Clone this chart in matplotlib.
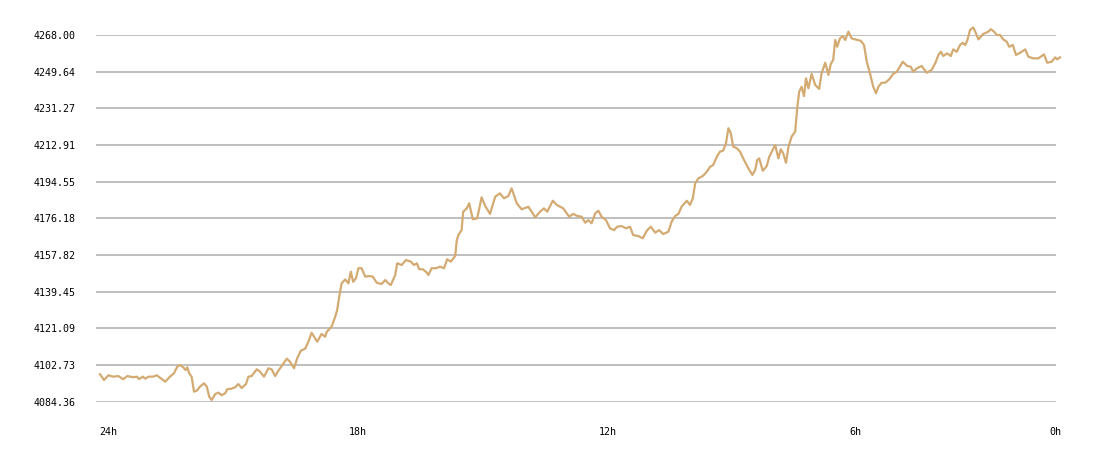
import matplotlib
matplotlib.use("Agg")
import matplotlib.pyplot as plt

# hours since start of the 24h window
hours = [
    0.0, 0.1, 0.21, 0.33, 0.46, 0.58, 0.68, 0.83, 0.92, 0.98, 1.07, 1.13, 1.21, 1.33, 1.42,
    1.52, 1.63, 1.75, 1.85, 1.93, 2.0, 2.08, 2.14, 2.18, 2.23, 2.29, 2.35, 2.42, 2.5, 2.6,
    2.67, 2.73, 2.79, 2.88, 2.96, 3.04, 3.13, 3.18, 3.29, 3.38, 3.46, 3.54, 3.65, 3.71, 3.79,
    3.92, 4.0, 4.1, 4.21, 4.29, 4.38, 4.46, 4.54, 4.67, 4.75, 4.85, 4.93, 5.02, 5.13, 5.21,
    5.29, 5.43, 5.54, 5.63, 5.67, 5.79, 5.88, 5.93, 5.98, 6.04, 6.13, 6.21, 6.27, 6.33, 6.4,
    6.46, 6.54, 6.63, 6.71, 6.82, 6.92, 7.04, 7.13, 7.21, 7.27, 7.38, 7.43, 7.54, 7.65, 7.77,
    7.85, 7.92, 7.98, 8.07, 8.17, 8.21, 8.29, 8.4, 8.5, 8.6, 8.68, 8.77, 8.88, 8.92, 8.96,
    9.04, 9.08, 9.17, 9.23, 9.32, 9.43, 9.54, 9.63, 9.75, 9.88, 10.0, 10.1, 10.21, 10.29, 10.42,
    10.54, 10.71, 10.88, 11.0, 11.1, 11.18, 11.32, 11.42, 11.58, 11.73, 11.83, 11.93, 12.04, 12.13, 12.21,
    12.29, 12.38, 12.46, 12.54, 12.65, 12.75, 12.85, 12.93, 13.04, 13.15, 13.25, 13.33, 13.46, 13.57, 13.67,
    13.77, 13.88, 13.98, 14.08, 14.21, 14.29, 14.38, 14.46, 14.54, 14.67, 14.75, 14.82, 14.88, 14.96, 15.07,
    15.17, 15.25, 15.33, 15.42, 15.5, 15.58, 15.65, 15.71, 15.77, 15.83, 15.92, 16.0, 16.1, 16.21, 16.31,
    16.38, 16.43, 16.48, 16.57, 16.67, 16.73, 16.88, 16.96, 17.02, 17.08, 17.15, 17.21, 17.29, 17.38, 17.43,
    17.48, 17.54, 17.6, 17.65, 17.71, 17.79, 17.88, 17.98, 18.04, 18.13, 18.17, 18.21, 18.27, 18.33, 18.38,
    18.43, 18.5, 18.57, 18.63, 18.71, 18.79, 18.88, 19.02, 19.1, 19.17, 19.25, 19.33, 19.4, 19.46, 19.54,
    19.63, 19.73, 19.83, 19.92, 20.07, 20.18, 20.27, 20.33, 20.42, 20.54, 20.67, 20.79, 20.88, 20.96, 21.02,
    21.08, 21.18, 21.27, 21.33, 21.42, 21.5, 21.57, 21.63, 21.68, 21.75, 21.83, 21.88, 21.96, 22.08, 22.21,
    22.27, 22.35, 22.42, 22.5, 22.58, 22.67, 22.73, 22.82, 22.9, 23.0, 23.13, 23.21, 23.33, 23.46, 23.6,
    23.68, 23.79, 23.88, 23.93, 24.0,
]

prices = [
    4098.1, 4095.2, 4097.6, 4096.9, 4097.2, 4095.6, 4097.2, 4096.6, 4096.9, 4095.7, 4096.9, 4095.9, 4096.9, 4096.9, 4097.6,
    4096.1, 4094.4, 4096.9, 4098.6, 4101.9, 4102.7, 4101.6, 4100.2, 4101.6, 4098.6, 4096.9, 4089.4, 4089.9, 4091.9, 4093.6,
    4091.9, 4086.9, 4085.2, 4088.2, 4088.9, 4087.6, 4088.6, 4090.6, 4090.9, 4091.6, 4093.2, 4091.2, 4093.2, 4096.9, 4097.2,
    4100.6, 4099.4, 4096.9, 4101.1, 4100.6, 4097.2, 4099.9, 4102.2, 4105.9, 4104.4, 4101.1, 4106.1, 4109.9, 4110.9, 4114.4,
    4118.9, 4114.4, 4118.3, 4116.9, 4119.4, 4121.9, 4126.9, 4130.3, 4136.9, 4143.6, 4145.6, 4143.6, 4149.5, 4144.4, 4146.2,
    4151.2, 4151.2, 4147.0, 4147.3, 4147.0, 4143.9, 4143.3, 4145.3, 4143.6, 4142.8, 4147.8, 4153.7, 4152.8, 4155.3, 4154.5,
    4152.8, 4153.7, 4150.7, 4150.7, 4149.0, 4147.8, 4151.2, 4151.2, 4152.0, 4151.2, 4155.7, 4154.5, 4157.3, 4165.3, 4167.8,
    4170.3, 4179.5, 4181.2, 4183.7, 4175.7, 4176.2, 4186.7, 4182.4, 4178.4, 4187.0, 4188.7, 4186.2, 4187.4, 4191.2, 4183.7,
    4180.7, 4182.0, 4176.7, 4179.5, 4181.2, 4179.5, 4185.0, 4182.9, 4181.2, 4177.0, 4178.4, 4177.4, 4177.0, 4174.0, 4175.3,
    4173.7, 4178.7, 4180.0, 4177.0, 4175.3, 4171.2, 4170.3, 4172.0, 4172.3, 4171.2, 4172.0, 4167.8, 4167.3, 4166.2, 4170.0,
    4172.0, 4169.0, 4170.3, 4168.3, 4169.5, 4174.5, 4177.4, 4178.4, 4182.0, 4185.0, 4182.9, 4186.2, 4193.7, 4196.2, 4197.4,
    4199.5, 4202.0, 4202.9, 4207.0, 4209.6, 4210.1, 4213.8, 4221.3, 4218.8, 4212.1, 4211.3, 4209.6, 4205.4, 4201.2, 4197.9,
    4200.4, 4205.4, 4206.2, 4200.0, 4202.4, 4207.0, 4212.9, 4206.2, 4210.8, 4208.8, 4204.0, 4211.8, 4217.1, 4219.6, 4231.3,
    4239.6, 4242.1, 4237.4, 4246.3, 4241.3, 4248.5, 4243.0, 4241.0, 4248.8, 4254.1, 4251.3, 4248.0, 4253.5, 4255.5, 4265.5,
    4262.1, 4266.3, 4267.5, 4265.5, 4269.7, 4266.3, 4265.8, 4265.1, 4263.0, 4254.6, 4248.8, 4242.1, 4238.8, 4242.1, 4244.1,
    4244.1, 4245.8, 4248.5, 4249.6, 4254.6, 4252.5, 4252.1, 4249.6, 4251.3, 4252.5, 4249.1, 4250.5, 4253.8, 4258.0, 4259.6,
    4257.5, 4258.8, 4257.5, 4260.8, 4259.6, 4263.0, 4264.1, 4263.0, 4265.1, 4270.5, 4271.8, 4269.7, 4265.8, 4268.5, 4269.7,
    4270.9, 4269.7, 4268.0, 4268.0, 4265.8, 4264.6, 4262.1, 4263.0, 4258.0, 4259.1, 4260.8, 4257.1, 4256.3, 4256.3, 4258.3,
    4254.1, 4254.6, 4256.8, 4255.8, 4256.8,
]

y_ticks = [4084.36, 4102.73, 4121.09, 4139.45, 4157.82, 4176.18, 4194.55, 4212.91, 4231.27, 4249.64, 4268.00]
x_labels = ["24h", "18h", "12h", "6h", "0h"]
x_label_pos = [0.2, 6.45, 12.7, 18.89, 23.89]

plt.rcParams['font.family'] = ['DejaVu Sans Mono']

fig = plt.figure(figsize=(11, 4.58), dpi=100)
ax = fig.add_axes([96 / 1100, 1 - 401.7 / 458, 960 / 1100, 366.7 / 458])

# grid lines, crisp 2px like the original
for v in y_ticks:
    ax.axhline(v, color="#c0c0c0", linewidth=1.44, antialiased=False, zorder=1)

ax.plot(hours, prices, color="#d3ab72", linewidth=1.6, clip_on=False, zorder=3)

ax.set_xlim(-0.1, 23.9)
ax.set_ylim(4084.36, 4268.00)

ax.set_yticks(y_ticks)
ax.set_yticklabels([f"{v:.2f}" for v in y_ticks], fontsize=7.2, color="#000000")
ax.set_xticks(x_label_pos)
ax.set_xticklabels(x_labels, fontsize=7.2, color="#000000")
ax.tick_params(axis="y", length=0, pad=14.4)
ax.tick_params(axis="x", length=0, pad=18)

for side in ax.spines.values():
    side.set_visible(False)

fig.savefig("out.png", dpi=100, facecolor="white")
